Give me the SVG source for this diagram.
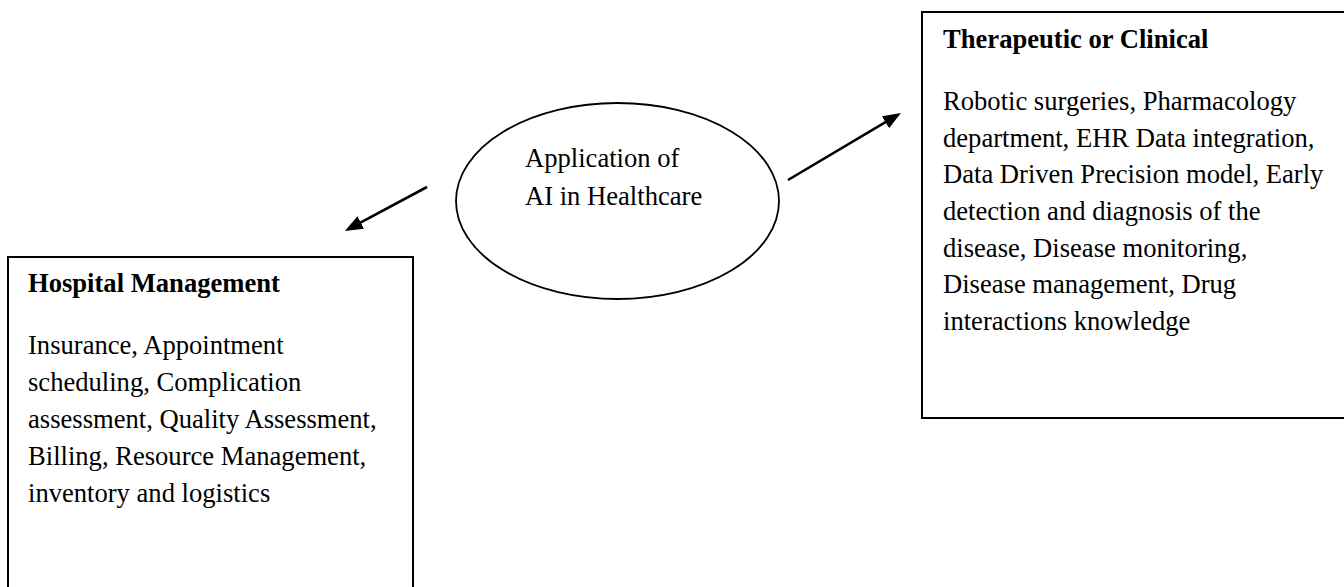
<svg xmlns="http://www.w3.org/2000/svg" width="1344" height="587" viewBox="0 0 1344 587">
<style>
.box{fill:#fff;stroke:#000;stroke-width:2}
.t{font-family:"Liberation Serif","Times New Roman",serif;font-size:26.6px;fill:#000}
.b{font-weight:bold}
.conn{stroke:#000;stroke-width:2.6;fill:none;marker-end:url(#ah)}
</style>
<defs>
<marker id="ah" markerUnits="userSpaceOnUse" markerWidth="20" markerHeight="16" refX="2" refY="7" orient="auto">
<path d="M0,0 L18,7 L0,14 z" fill="#000"/>
</marker>
</defs>
<rect width="1344" height="587" fill="#fff"/>
<g id="center">
<ellipse cx="617.5" cy="201" rx="161.5" ry="98" fill="#fff" stroke="#000" stroke-width="1.8"/>
<text class="t" x="525" y="167">Application of</text>
<text class="t" x="525" y="205">AI in Healthcare</text>
</g>
<g id="clinical">
<rect class="box" x="922" y="12" width="430" height="406"/>
<text class="t b" x="943" y="48">Therapeutic or Clinical</text>
<text class="t" x="943" y="110">Robotic surgeries, Pharmacology</text>
<text class="t" x="943" y="146.7">department, EHR Data integration,</text>
<text class="t" x="943" y="183.3">Data Driven Precision model, Early</text>
<text class="t" x="943" y="220">detection and diagnosis of the</text>
<text class="t" x="943" y="256.7">disease, Disease monitoring,</text>
<text class="t" x="943" y="293.3">Disease management, Drug</text>
<text class="t" x="943" y="330">interactions knowledge</text>
</g>
<g id="hospital">
<rect class="box" x="8" y="257" width="405" height="340"/>
<text class="t b" x="28" y="292">Hospital Management</text>
<text class="t" x="28" y="354">Insurance, Appointment</text>
<text class="t" x="28" y="391">scheduling, Complication</text>
<text class="t" x="28" y="428">assessment, Quality Assessment,</text>
<text class="t" x="28" y="465">Billing, Resource Management,</text>
<text class="t" x="28" y="502">inventory and logistics</text>
</g>
<g id="connectors">
<line class="conn" x1="427" y1="187" x2="359" y2="223.4"/>
<line class="conn" x1="788" y1="180" x2="887.2" y2="121.2"/>
</g>
</svg>
